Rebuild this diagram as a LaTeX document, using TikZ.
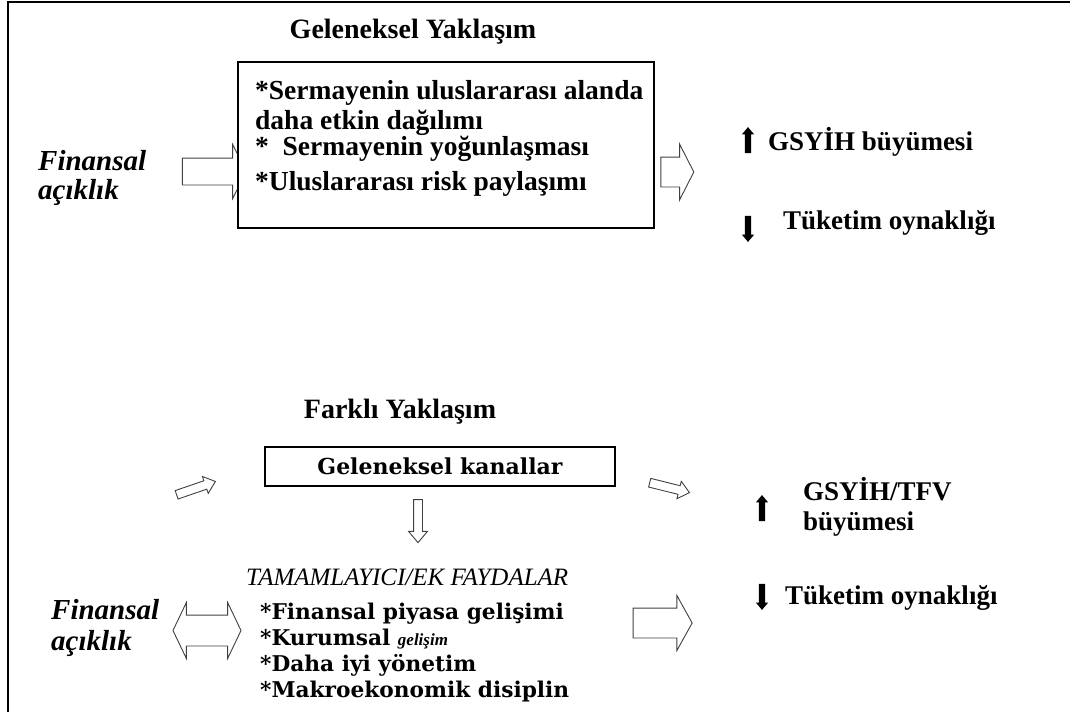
\documentclass[tikz,border=0pt]{standalone}
\usepackage{fontspec}
\setmainfont{Liberation Serif}
\newfontfamily\widefont{DejaVu Serif}
\usetikzlibrary{shapes.arrows}

\begin{document}
\begin{tikzpicture}[x=1pt, y=-1pt,
    heading/.style={font=\bfseries\fontsize{28}{32}\selectfont},
    item/.style={anchor=base west, inner sep=0pt, font=\bfseries\fontsize{27.5}{30}\selectfont},
    result/.style={anchor=base west, inner sep=0pt, font=\bfseries\fontsize{27}{30}\selectfont},
    wideitem/.style={anchor=base west, inner sep=0pt, font=\widefont\bfseries\fontsize{21.7}{26}\selectfont},
    source/.style={anchor=base west, inner sep=0pt, font=\bfseries\itshape\fontsize{29}{30}\selectfont},
    frame/.style={draw, line width=1.2pt, fill=white, inner sep=0pt},
    hollow/.style={single arrow, draw=black!75, fill=white, line width=0.9pt, inner xsep=0pt},
    twohead/.style={double arrow, draw=black!75, fill=white, line width=0.9pt, inner xsep=0pt},
    solid/.style={single arrow, fill=black, inner xsep=0pt, inner ysep=3pt,
        minimum height=26, single arrow head extend=3, single arrow tip angle=80}
]
\useasboundingbox (0,0) rectangle (1070,712);
\draw[line width=1.5pt] (8,712) -- (8,2) -- (1070,2);

% geleneksel yaklasim
\node[heading] (title1) at (413,32) {Geleneksel Yaklaşım};
\node[source] (fin1a) at (38,170) {Finansal};
\node[source] (fin1b) at (38,199) {açıklık};
\node[hollow, minimum height=64, inner ysep=13pt, single arrow head extend=13.5,
    single arrow tip angle=126] (arr1) at (211,171.5) {};
\node[frame, minimum width=416, minimum height=166] (box1) at (446,145) {};
\node[item] (ch1) at (255,99) {*Sermayenin uluslararası alanda};
\node[item] (ch2) at (255,129) {daha etkin dağılımı};
\node[item] (ch3) at (255,155) {*\ \ Sermayenin yoğunlaşması};
\node[item] (ch4) at (255,190) {*Uluslararası risk paylaşımı};
\node[hollow, minimum height=33, inner ysep=14.5pt, single arrow head extend=13,
    single arrow tip angle=126] (arr2) at (673.5,172) {};
\node[solid, rotate=90] (up1) at (748,142) {};
\node[result] (res1) at (768,150) {GSYİH büyümesi};
\node[solid, rotate=-90] (down1) at (748,227) {};
\node[result] (res2) at (783,229) {Tüketim oynaklığı};

% farkli yaklasim
\node[heading] (title2) at (400,412) {Farklı Yaklaşım};
\node[frame, minimum width=350, minimum height=39, font=\widefont\bfseries\fontsize{22}{26}\selectfont]
    (box2) at (440,466.5) {Geleneksel kanallar};
\node[hollow, minimum height=41, inner ysep=4pt, single arrow head extend=4.5,
    single arrow tip angle=80, rotate=19] (arr3) at (193.5,489) {};
\node[hollow, minimum height=41, inner ysep=4pt, single arrow head extend=4.5,
    single arrow tip angle=80, rotate=-14] (arr4) at (667,487) {};
\node[hollow, minimum height=43, inner ysep=4pt, single arrow head extend=5,
    single arrow tip angle=80, rotate=-90] (arr5) at (418,518.5) {};
\node[solid, rotate=90] (up2) at (762,510) {};
\node[result] (res3) at (803,500) {GSYİH/TFV};
\node[result] (res4) at (803,530) {büyümesi};
\node[solid, rotate=-90] (down2) at (762,595) {};
\node[result] (res5) at (785,604) {Tüketim oynaklığı};

\node[anchor=base west, inner sep=0pt, font=\itshape\fontsize{25}{28}\selectfont]
    (extra) at (246,585) {TAMAMLAYICI/EK FAYDALAR};
\node[wideitem] (ben1) at (260,619) {*Finansal piyasa gelişimi};
\node[wideitem] (ben2) at (260,645) {*Kurumsal {\rmfamily\itshape\fontsize{17}{20}\selectfont gelişim}};
\node[wideitem] (ben3) at (260,671) {*Daha iyi yönetim};
\node[wideitem] (ben4) at (260,697) {*Makroekonomik disiplin};
\node[source] (fin2a) at (51,619) {Finansal};
\node[source] (fin2b) at (51,650) {açıklık};
\node[twohead, minimum height=68, inner ysep=15pt, double arrow head extend=12.5,
    double arrow tip angle=129] (arr6) at (207,630.5) {};
\node[hollow, minimum height=59, inner ysep=14.5pt, single arrow head extend=12.5,
    single arrow tip angle=122] (arr7) at (658.5,623) {};
\end{tikzpicture}
\end{document}
